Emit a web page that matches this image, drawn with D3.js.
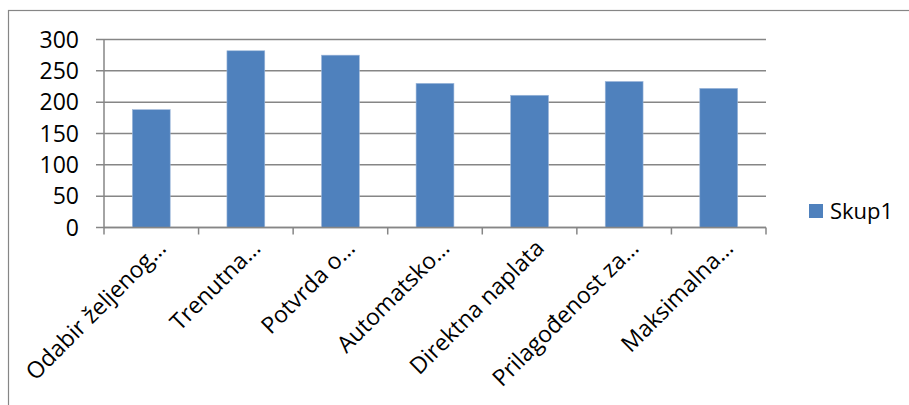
<!DOCTYPE html>
<html>
<head>
<meta charset="utf-8">
<script src="https://cdn.jsdelivr.net/npm/d3@7"></script>
<style>
  html, body { margin: 0; padding: 0; background: #fff; }
  svg { display: block; font-family: "Open Sans", sans-serif; }
</style>
</head>
<body>
<svg id="chart" width="909" height="405"></svg>
<script>
const categories = ["Odabir željenog…", "Trenutna…", "Potvrda o…", "Automatsko…", "Direktna naplata", "Prilagođenost za…", "Maksimalna…"];
const values = [188, 282, 275, 230, 211, 233, 222];
const yTicks = [0, 50, 100, 150, 200, 250, 300];
const seriesName = "Skup1";

(function () {
const svg = d3.select("#chart");
const pLeft = 104, pRight = 766, pTop = 39.5, pBottom = 227.5;
const gridColor = "#868686";

// outer chart border (extends beyond view on right/bottom)
svg.append("rect")
  .attr("x", 8.5).attr("y", 10.5)
  .attr("width", 1000).attr("height", 1000)
  .attr("fill", "none").attr("stroke", gridColor).attr("stroke-width", 1.2);

const x = d3.scaleBand().domain(categories).range([pLeft, pRight]).paddingInner(0.6).paddingOuter(0.3);
const y = d3.scaleLinear().domain([0, 300]).range([pBottom, pTop]);

// gridlines
svg.append("g").selectAll("line").data(yTicks).join("line")
  .attr("x1", pLeft - 8).attr("x2", pRight)
  .attr("y1", d => y(d)).attr("y2", d => y(d))
  .attr("stroke", gridColor).attr("stroke-width", 1.5);

// y axis line
svg.append("line").attr("x1", pLeft).attr("x2", pLeft).attr("y1", pTop).attr("y2", pBottom)
  .attr("stroke", gridColor).attr("stroke-width", 1.5);

// y labels
svg.append("g").selectAll("text").data(yTicks).join("text")
  .attr("x", 79).attr("y", d => y(d))
  .attr("dy", "0.35em")
  .attr("text-anchor", "end")
  .attr("font-size", 23).attr("fill", "#000")
  .text(d => d);

// bars
svg.append("g").selectAll("rect").data(values).join("rect")
  .attr("x", (d, i) => x(categories[i]))
  .attr("y", d => y(d))
  .attr("width", x.bandwidth())
  .attr("height", d => y(0) - y(d))
  .attr("fill", "#4F81BD")
  .attr("stroke", "#9DB7DA").attr("stroke-width", 0.6);

// x axis line
svg.append("line").attr("x1", pLeft).attr("x2", pRight).attr("y1", pBottom).attr("y2", pBottom)
  .attr("stroke", gridColor).attr("stroke-width", 1.5);

// category tick marks at band boundaries
const bounds = d3.range(categories.length + 1).map(i => pLeft + i * (pRight - pLeft) / categories.length);
svg.append("g").selectAll("line").data(bounds).join("line")
  .attr("x1", d => d).attr("x2", d => d)
  .attr("y1", pBottom).attr("y2", pBottom + 7)
  .attr("stroke", gridColor).attr("stroke-width", 1.5);

// category labels rotated -45
svg.append("g").selectAll("text").data(categories).join("text")
  .attr("transform", d => `translate(${x(d) + x.bandwidth() / 2 + 16},${pBottom + 22}) rotate(-45)`)
  .attr("text-anchor", "end")
  .attr("font-size", 23).attr("fill", "#000")
  .text(d => d);

// legend
svg.append("rect").attr("x", 809).attr("y", 204).attr("width", 14).attr("height", 14).attr("fill", "#4F81BD");
svg.append("text").attr("x", 830).attr("y", 218.5).attr("font-size", 22).attr("fill", "#000").text(seriesName);
})();
</script>
</body>
</html>
